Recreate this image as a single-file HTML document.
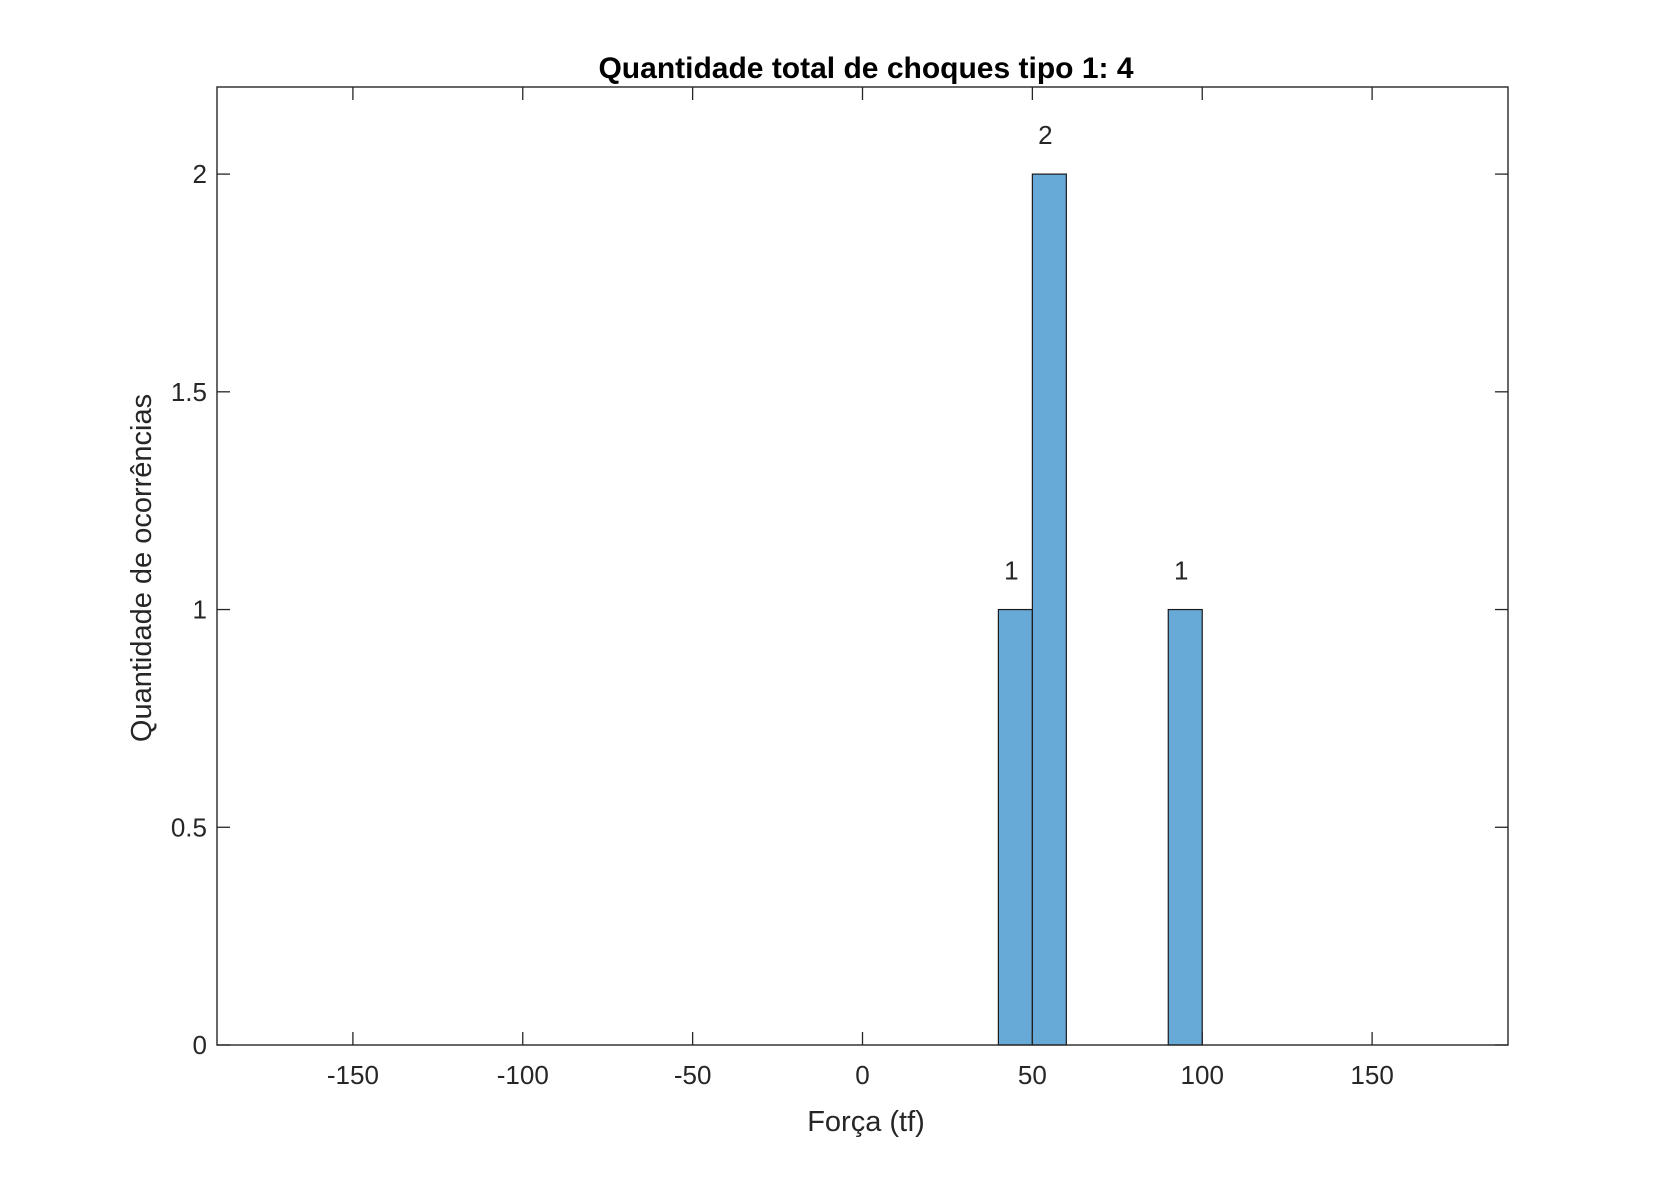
<!DOCTYPE html>
<html><head><meta charset="utf-8"><style>body{margin:0;background:#fff}svg text{font-family:"Liberation Sans",Arial,sans-serif;fill:#262626}</style></head>
<body>
<svg id="chart" width="1667" height="1175" xmlns="http://www.w3.org/2000/svg">
<rect width="1667" height="1175" fill="#fff"/>
<text x="866" y="78" font-size="30" font-weight="bold" text-anchor="middle" style="fill:#000">Quantidade total de choques tipo 1: 4</text>
<text x="866" y="1131" font-size="29" text-anchor="middle">Força (tf)</text>
<text transform="translate(151,568) rotate(-90)" font-size="29" text-anchor="middle">Quantidade de ocorrências</text>
<g id="marks"></g>
<g id="axes"></g>
</svg>
<script>
const binEdgesLeft=[40,50,90];
const binWidth=10;
const counts=[1,2,1];
const xTicks=[-150,-100,-50,0,50,100,150];
const yTicks=[0,0.5,1,1.5,2];
const yTickLabels=["0","0.5","1","1.5","2"];
const L=217,R=1508,T=87,B=1045,xmin=-190,xmax=190,ymin=0,ymax=2.2;
const sx=v=>L+(v-xmin)/(xmax-xmin)*(R-L);
const sy=v=>B-(v-ymin)/(ymax-ymin)*(B-T);
const NS="http://www.w3.org/2000/svg";
function mk(t,a,p){const e=document.createElementNS(NS,t);for(const k in a)e.setAttribute(k,a[k]);p.appendChild(e);return e;}
const marks=document.getElementById('marks'),axes=document.getElementById('axes');
counts.forEach((c,i)=>{
 const x0=sx(binEdgesLeft[i]),x1=sx(binEdgesLeft[i]+binWidth);
 const r=mk('rect',{x:x0,y:sy(c),width:x1-x0,height:sy(0)-sy(c),fill:'#67aad8',stroke:'#1a1a1a','stroke-width':1.2},marks);
 
 
 const t=mk('text',{x:(x0+x1)/2-4,y:sy(c)-30,'font-size':26,'text-anchor':'middle'},marks);
 t.textContent=c;
 
 
});
const box=mk('rect',{x:L,y:T,width:R-L,height:B-T,fill:'none',stroke:'#262626','stroke-width':1.4},axes);


xTicks.forEach(v=>{
 const x=sx(v);
 mk('line',{x1:x,x2:x,y1:B,y2:B-13,stroke:'#262626','stroke-width':1.3},axes);
 mk('line',{x1:x,x2:x,y1:T,y2:T+13,stroke:'#262626','stroke-width':1.3},axes);
 const t=mk('text',{x:x,y:B+39,'font-size':26,'text-anchor':'middle'},axes);
 t.textContent=v;
 
 
});
yTicks.forEach((v,i)=>{
 const y=sy(v);
 mk('line',{x1:L,x2:L+13,y1:y,y2:y,stroke:'#262626','stroke-width':1.3},axes);
 mk('line',{x1:R,x2:R-13,y1:y,y2:y,stroke:'#262626','stroke-width':1.3},axes);
 const t=mk('text',{x:L-10,y:y+9,'font-size':26,'text-anchor':'end'},axes);
 t.textContent=yTickLabels[i];
 
 
});
</script>
</body></html>
